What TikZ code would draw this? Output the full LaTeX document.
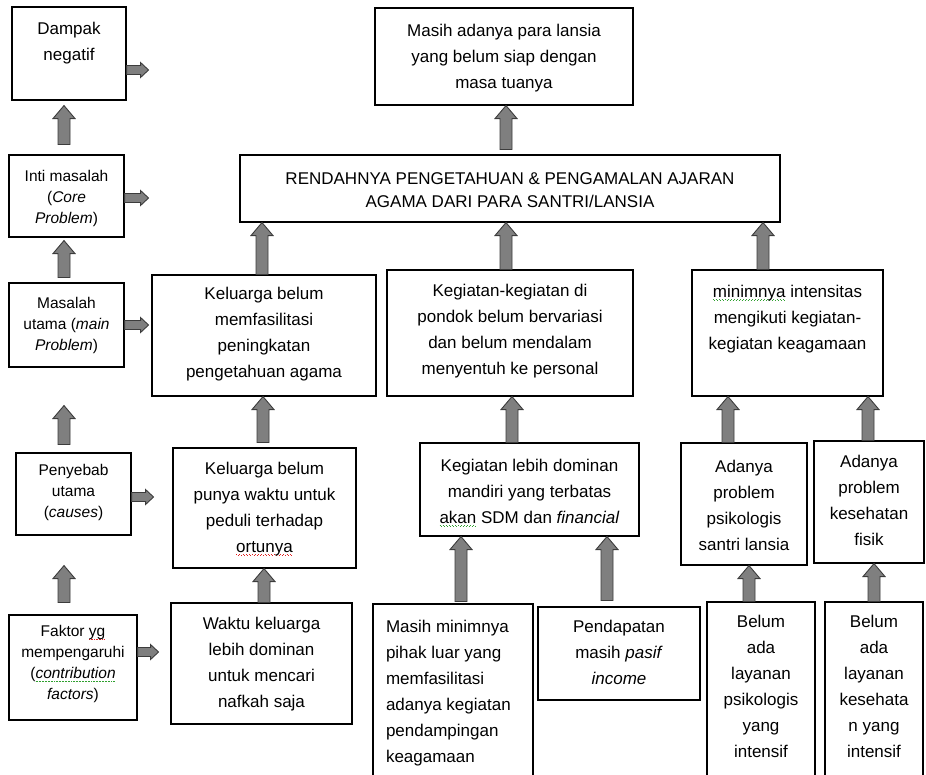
\documentclass[tikz,border=0pt]{standalone}
\usepackage{fontspec}
\setmainfont{Liberation Sans}
\usetikzlibrary{calc}

\definecolor{arrowgray}{HTML}{7F7F7F}
\definecolor{arrowedge}{HTML}{3C3C3C}
\definecolor{spellred}{HTML}{E02020}
\definecolor{spellgreen}{HTML}{30A030}

\newcommand\mainsz{\fontsize{17}{26}\selectfont}
\newcommand\sidesz{\fontsize{15.5}{21}\selectfont}

% dotted wavy underline drawn beneath a word
\newsavebox\spellbox
\newcommand\spellmark[2]{\sbox\spellbox{#2}\leavevmode
  \rlap{\raisebox{-3.5pt}{\color{#1}\hbox to \wd\spellbox{\xleaders\hbox to 3pt{\raisebox{0.8pt}{\rule{1pt}{0.8pt}}\hss\rule{1pt}{0.8pt}\hss}\hfill}}}%
  \usebox\spellbox}
\newcommand\redwave[1]{\spellmark{spellred}{#1}}
\newcommand\greenwave[1]{\spellmark{spellgreen}{#1}}

\tikzset{
  boxnode/.style={draw=black, line width=1.1pt, inner sep=0pt, fill=white, font=\mainsz},
  blk/.style={fill=arrowgray, draw=arrowedge, line width=0.9pt, line join=miter}
}

% box: [alignment/font] {name}{x1}{y1}{x2}{y2}{top padding}{text}
\newcommand\bx[8][\centering]{%
  \node[boxnode] (#2) at ({(#3+#5)/2},{(#4+#6)/2})
    {\parbox[c][\dimexpr#6pt-#4pt\relax][t]{\dimexpr#5pt-#3pt\relax}{\vspace*{#7pt}#1\strut#8}};}

% upward block arrow, x taken from the start point
\newcommand\blkup[2]{\path[blk] let \p1=#1, \p2=#2 in
  ({\x1-6pt},{\y1}) -- ({\x1-6pt},{\y2-13pt}) -- ({\x1-11pt},{\y2-13pt}) -- ({\x1},{\y2})
  -- ({\x1+11pt},{\y2-13pt}) -- ({\x1+6pt},{\y2-13pt}) -- ({\x1+6pt},{\y1}) -- cycle;}

% rightward block arrow, y taken from the start point
\newcommand\blkright[2]{\path[blk] let \p1=#1, \p2=#2 in
  ({\x1},{\y1+4.5pt}) -- ({\x2-8pt},{\y1+4.5pt}) -- ({\x2-8pt},{\y1+7.5pt}) -- ({\x2},{\y1})
  -- ({\x2-8pt},{\y1-7.5pt}) -- ({\x2-8pt},{\y1-4.5pt}) -- ({\x1},{\y1-4.5pt}) -- cycle;}

\begin{document}
\begin{tikzpicture}[x=1pt,y=-1pt]
\useasboundingbox (0,0) rectangle (926,774);

% ---- level labels (left column)
\bx{dampak}{12}{7}{126}{100}{9}{Dampak\\negatif}
\bx[\sidesz\centering]{inti}{9}{155}{124}{237}{12}{Inti masalah\\(\textit{Core}\\\textit{Problem})}
\bx[\sidesz\centering]{masalah}{9}{283}{124}{367}{11}{Masalah\\utama (\textit{main}\\\textit{Problem})}
\bx[\sidesz\centering]{penyebab}{16}{453}{131}{535}{8}{Penyebab\\utama\\(\textit{causes})}
\bx[\sidesz\centering]{faktor}{9}{615}{137}{720}{7}{Faktor \redwave{yg}\\mempengaruhi\\(\textit{\greenwave{contribution}}\\\textit{factors})}

% ---- effect and core problem
\bx{siap}{375}{8}{633}{105}{10}{Masih adanya  para lansia\\yang belum siap dengan\\masa tuanya}
\bx[\fontsize{17}{23}\selectfont\centering]{core}{240}{155}{780}{222}{13}{RENDAHNYA PENGETAHUAN \& PENGAMALAN AJARAN\\AGAMA DARI PARA SANTRI/LANSIA}

% ---- main problems
\bx{kel1}{152}{275}{376}{396}{6}{Keluarga belum\\memfasilitasi\\peningkatan\\pengetahuan  agama}
\bx{keg1}{387}{270}{633}{396}{8}{Kegiatan-kegiatan  di\\pondok  belum bervariasi\\dan belum mendalam\\menyentuh  ke personal}
\bx{min1}{692}{270}{883}{396}{9}{\greenwave{minimnya} intensitas\\mengikuti  kegiatan-\\kegiatan  keagamaan}

% ---- causes
\bx{kel2}{173}{448}{356}{568}{8}{Keluarga belum\\punya waktu untuk\\peduli  terhadap\\\redwave{ortunya}}
\bx{keg2}{420}{443}{639}{536}{10}{Kegiatan  lebih dominan\\mandiri yang terbatas\\\greenwave{akan} SDM dan \textit{financial}}
\bx{psi1}{681}{443}{807}{565}{11}{Adanya\\problem\\psikologis\\santri lansia}
\bx{kes1}{814}{441}{924}{563}{8}{Adanya\\problem\\kesehatan\\fisik}

% ---- contributing factors
\bx{waktu}{171}{603}{352}{724}{8}{Waktu  keluarga\\lebih dominan\\untuk  mencari\\nafkah  saja}
\bx[\raggedright\leftskip=13pt\relax]{pihak}{373}{604}{533}{790}{10}{Masih minimnya\\pihak luar yang\\memfasilitasi\\adanya  kegiatan\\pendampingan\\keagamaan}
\bx{pend}{538}{607}{700}{700}{7}{Pendapatan\\masih \textit{pasif}\\\textit{income}}
\bx{psi2}{707}{602}{815}{790}{7}{Belum\\ada\\layanan\\psikologis\\yang\\intensif}
\bx{kes2}{825}{602}{923}{790}{7}{Belum\\ada\\layanan\\kesehata\\n yang\\intensif}

% ---- free ends of the side arrows
\coordinate (dampak-r) at ($(dampak.east)+(22,16.5)$);
\coordinate (inti-r) at ($(inti.east)+(24,2)$);
\coordinate (masalah-r) at ($(masalah.east)+(24,0)$);
\coordinate (penyebab-r) at ($(penyebab.east)+(22,3)$);
\coordinate (faktor-r) at ($(faktor.east)+(21,-15.5)$);

\blkright{($(dampak.east)+(0,16.5)$)}{(dampak-r)}
\blkright{($(inti.east)+(0,2)$)}{(inti-r)}
\blkright{($(masalah.east)+(0,0)$)}{(masalah-r)}
\blkright{($(penyebab.east)+(0,3)$)}{(penyebab-r)}
\blkright{($(faktor.east)+(0,-15.5)$)}{(faktor-r)}

% ---- left column arrows
\blkup{($(inti.north)+(-2.5,-10)$)}{($(dampak.south)+(0,5)$)}
\blkup{($(masalah.north)+(-2.5,-5)$)}{($(inti.south)+(0,3)$)}
\blkup{($(penyebab.north)+(-9.5,-8)$)}{($(masalah.south)+(0,38)$)}
\blkup{($(faktor.north)+(-9,-12)$)}{($(penyebab.south)+(0,30)$)}

% ---- tree arrows
\blkup{($(core.north)+(-4,-5)$)}{(siap.south)}
\blkup{($(kel1.north)+(-2,0)$)}{(core.south)}
\blkup{($(keg1.north)+(-4,0)$)}{(core.south)}
\blkup{($(min1.north)+(-24.5,0)$)}{(core.south)}
\blkup{($(kel2.north)+(-1.5,-5)$)}{(kel1.south)}
\blkup{($(keg2.north)+(-17.5,0)$)}{(keg1.south)}
\blkup{($(psi1.north)+(-16,0)$)}{(min1.south)}
\blkup{($(kes1.north)+(-1,0)$)}{(min1.south)}
\blkup{($(waktu.north)+(2.5,0)$)}{(kel2.south)}
\blkup{($(pihak.north)+(8,-2)$)}{(keg2.south)}
\blkup{($(pend.north)+(-12,-6)$)}{(keg2.south)}
\blkup{($(psi2.north)+(-12,0)$)}{(psi1.south)}
\blkup{($(kes2.north)+(0,0)$)}{(kes1.south)}

\end{tikzpicture}
\end{document}
